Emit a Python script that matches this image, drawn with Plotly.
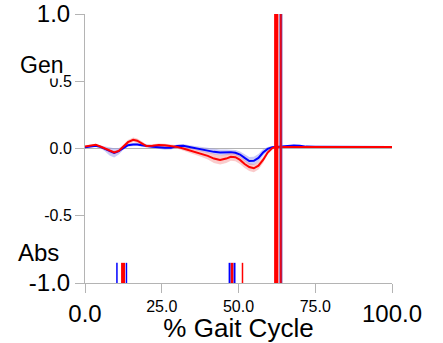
import plotly.graph_objects as go

# ---- data ----
gait = [0, 2, 3.5, 5, 6.5, 8, 9.5, 11, 12.5, 14, 15.7, 17, 18.5, 20, 22, 24, 26, 28, 30, 32,
        34, 36, 38, 40, 42, 44, 46, 47.5, 49, 50.5, 52, 53.5, 55, 56.5, 58, 59.5, 61, 62, 64,
        66, 68, 70, 72, 75, 80, 85, 90, 95, 100]

red_mean = [0.015, 0.022, 0.027, 0.015, 0.0, -0.02, -0.03, -0.018, 0.015, 0.047, 0.065, 0.058,
            0.038, 0.018, 0.02, 0.026, 0.024, 0.018, 0.012, 0.0, -0.014, -0.027, -0.04, -0.055,
            -0.075, -0.085, -0.075, -0.062, -0.065, -0.085, -0.115, -0.138, -0.147, -0.128,
            -0.085, -0.03, 0.003, 0.01, 0.012, 0.013, 0.013, 0.013, 0.012, 0.012, 0.012, 0.012,
            0.012, 0.012, 0.012]
red_sd = [0.008, 0.008, 0.008, 0.008, 0.008, 0.012, 0.012, 0.012, 0.015, 0.017, 0.017, 0.017,
          0.015, 0.012, 0.012, 0.012, 0.012, 0.012, 0.012, 0.018, 0.02, 0.022, 0.024, 0.026,
          0.032, 0.034, 0.032, 0.03, 0.03, 0.03, 0.03, 0.03, 0.03, 0.028, 0.022, 0.015,
          0.01, 0.006, 0.006, 0.006, 0.006, 0.006, 0.006, 0.006, 0.006, 0.006, 0.006, 0.006, 0.006]

blue_mean = [0.01, 0.015, 0.02, 0.012, -0.003, -0.022, -0.033, -0.02, 0.005, 0.025, 0.03, 0.03,
             0.024, 0.017, 0.013, 0.01, 0.005, 0.006, 0.018, 0.02, 0.01, 0.002, -0.005, -0.015,
             -0.025, -0.03, -0.029, -0.027, -0.032, -0.045, -0.07, -0.093, -0.092, -0.07, -0.03,
             -0.003, 0.01, 0.012, 0.013, 0.016, 0.022, 0.02, 0.014, 0.013, 0.012, 0.012, 0.012,
             0.012, 0.012]
blue_sd = [0.008, 0.008, 0.008, 0.01, 0.018, 0.03, 0.034, 0.024, 0.014, 0.01, 0.01, 0.01, 0.01,
           0.012, 0.013, 0.014, 0.014, 0.013, 0.012, 0.014, 0.014, 0.015, 0.016, 0.018, 0.02,
           0.022, 0.022, 0.02, 0.02, 0.022, 0.028, 0.03, 0.03, 0.03, 0.024, 0.014, 0.008, 0.005,
           0.005, 0.005, 0.005, 0.005, 0.005, 0.005, 0.005, 0.005, 0.005, 0.005, 0.005]

# gait events (% gait cycle)
blue_short_events = [10.4, 13.5, 47.1, 48.7]
red_short_events = [12.4, 47.9, 51.3]
blue_full_events = [63.8]
red_full_events = [62.3, 63.8]

x_small_ticks = [25, 50, 75]
x_small_text = ["25.0", "50.0", "75.0"]
x_big_ticks = [0, 100]
x_big_text = ["0.0", "100.0"]
y_small_ticks = [-0.5, 0, 0.5]
y_small_text = ["-0.5", "0.0", "0.5"]
y_big_ticks = [-1, 1]
y_big_text = ["-1.0", "1.0"]

# ---- styles ----
FONT = "Liberation Sans, Arial, sans-serif"
AX = "#b4b4b4"
BLUE = "#0000ff"
RED = "#ff0000"

fig = go.Figure()


def band(mean, sd, fill):
    lo = [m - s for m, s in zip(mean, sd)]
    hi = [m + s for m, s in zip(mean, sd)]
    fig.add_trace(go.Scatter(x=gait + gait[::-1], y=hi + lo[::-1], fill="toself",
                             fillcolor=fill, line=dict(width=0), mode="lines",
                             hoverinfo="skip", showlegend=False))


band(blue_mean, blue_sd, "rgba(150,150,235,0.5)")
band(red_mean, red_sd, "rgba(245,140,140,0.45)")

fig.add_trace(go.Scatter(x=gait, y=blue_mean, mode="lines", line=dict(color=BLUE, width=2),
                         showlegend=False, hoverinfo="skip"))
fig.add_trace(go.Scatter(x=gait, y=red_mean, mode="lines", line=dict(color=RED, width=2),
                         showlegend=False, hoverinfo="skip"))


def vline(x, y0, y1, color, width):
    fig.add_trace(go.Scatter(x=[x, x], y=[y0, y1], mode="lines",
                             line=dict(color=color, width=width),
                             showlegend=False, hoverinfo="skip"))


short_lo, short_hi = -1.0, -0.85
blue_short_w = [1.5, 1.5, 2, 2]
for x, w in zip(blue_short_events, blue_short_w):
    vline(x, short_lo, short_hi, BLUE, w)
red_short_w = [4, 2.5, 1.5]
for x, w in zip(red_short_events, red_short_w):
    vline(x, short_lo, short_hi, RED, w)

for x in blue_full_events:
    vline(x, -1, 1, "#6a3aa0", 3)
red_full_w = [4.3, 1.4]
for x, w in zip(red_full_events, red_full_w):
    vline(x, -1, 1, RED, w)

# dummy trace to create the overlay subplot for the large tick labels
fig.add_trace(go.Scatter(x=[None], y=[None], xaxis="x2", yaxis="y2", showlegend=False,
                         hoverinfo="skip"))

common = dict(showgrid=False, ticks="outside", ticklen=9, tickcolor=AX, tickwidth=1,
              automargin=False)

fig.update_layout(
    template="none",
    width=443, height=343,
    margin=dict(l=85, r=51, t=14, b=60, pad=0),
    paper_bgcolor="white", plot_bgcolor="white",
    font=dict(family=FONT, color="black"),
    xaxis=dict(range=[0, 100], tickvals=x_big_ticks + x_small_ticks,
               ticktext=["", ""] + x_small_text, tickfont=dict(size=16),
               showline=True, linecolor=AX, linewidth=1, zeroline=False,
               title=dict(text="% Gait Cycle", font=dict(size=26), standoff=3),
               **common),
    yaxis=dict(range=[-1, 1], tickvals=y_big_ticks + y_small_ticks,
               ticktext=["", ""] + y_small_text, tickfont=dict(size=16),
               showline=True, linecolor=AX, linewidth=1,
               zeroline=True, zerolinecolor=AX, zerolinewidth=1, **common),
    xaxis2=dict(range=[0, 100], overlaying="x", anchor="y2", side="bottom",
                tickvals=x_big_ticks, ticktext=x_big_text, tickfont=dict(size=24),
                showline=False, zeroline=False, **common),
    yaxis2=dict(range=[-1, 1], overlaying="y", anchor="x2", side="left",
                tickvals=y_big_ticks, ticktext=y_big_text, tickfont=dict(size=24),
                showline=False, zeroline=False, **common),
    annotations=[
        dict(text="Gen", xref="paper", yref="y", x=-0.143, y=0.62, showarrow=False,
             font=dict(size=23), xanchor="center", yanchor="middle",
             bgcolor="white", borderpad=0),
        dict(text="Abs", xref="paper", yref="y", x=-0.15, y=-0.77, showarrow=False,
             font=dict(size=24), xanchor="center", yanchor="middle"),
    ],
)

fig.write_html("out.html")
